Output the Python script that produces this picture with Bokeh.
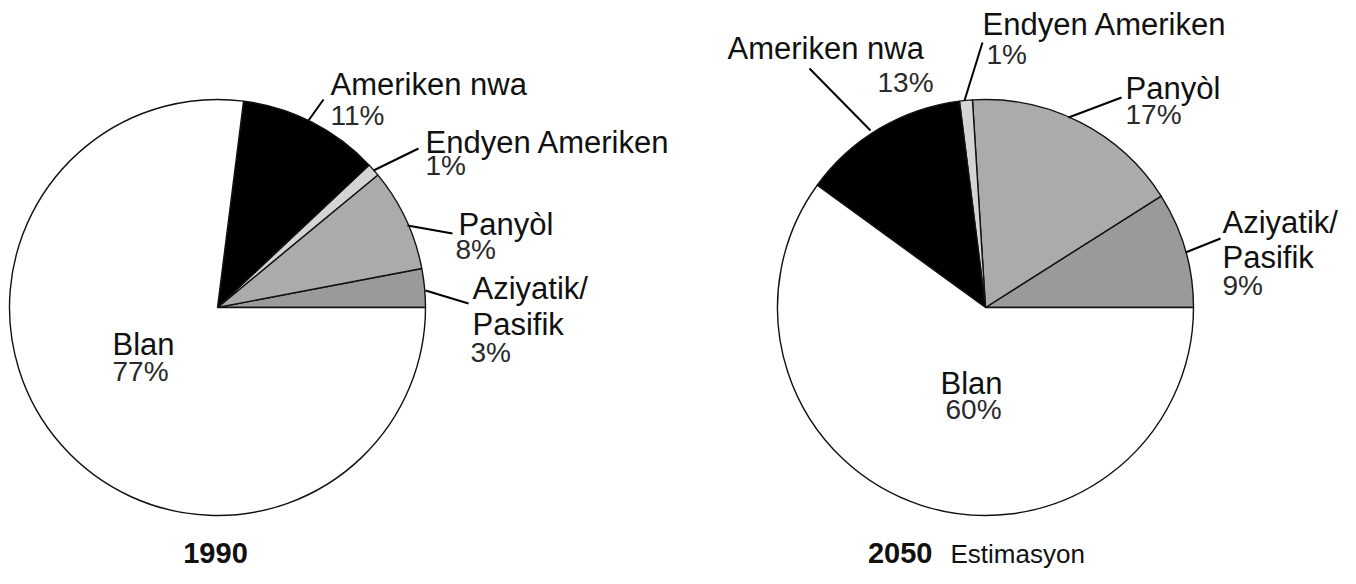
import numpy as np
from bokeh.plotting import figure
from bokeh.models import Range1d, ColumnDataSource
from bokeh.core.properties import value
from bokeh.embed import file_html
from bokeh.resources import INLINE

# ---------------- data ----------------
categories = ["Aziyatik/Pasifik", "Panyòl", "Endyen Ameriken", "Ameriken nwa", "Blan"]
shares_1990 = [3, 8, 1, 11, 77]
shares_2050 = [9, 17, 1, 13, 60]
years = ["1990", "2050"]
year_notes = ["", "Estimasyon"]

# ---------------- styles ----------------
slice_colors = ["#9a9a9a", "#ababab", "#d4d4d4", "#000000", "#ffffff"]
FONT = "Liberation Sans"
NAME_PX = 31
PCT_PX = 28
YEAR_PX = 29
NOTE_PX = 26
BASE_FIX = 0.3  # baseline correction (fraction of font size)

# ---------------- layout (picture pixel coordinates) ----------------
pie_centers = [(217, 307), (985, 307)]
pie_radius = 208

name_pos = [
    {
        "Aziyatik/Pasifik": [(472, 297), (472, 333)],
        "Panyòl": [(458, 233)],
        "Endyen Ameriken": [(425, 151)],
        "Ameriken nwa": [(330, 93)],
        "Blan": [(112, 353)],
    },
    {
        "Aziyatik/Pasifik": [(1222, 231), (1222, 266)],
        "Panyòl": [(1125, 97)],
        "Endyen Ameriken": [(982, 33)],
        "Ameriken nwa": [(727, 57)],
        "Blan": [(940, 392)],
    },
]
pct_pos = [
    {
        "Aziyatik/Pasifik": (470, 360),
        "Panyòl": (455, 257),
        "Endyen Ameriken": (425, 173),
        "Ameriken nwa": (330, 123),
        "Blan": (112, 379),
    },
    {
        "Aziyatik/Pasifik": (1222, 293),
        "Panyòl": (1125, 122),
        "Endyen Ameriken": (986, 62),
        "Ameriken nwa": (877, 90),
        "Blan": (945, 417),
    },
]
leaders = [
    {
        "Aziyatik/Pasifik": (425, 290, 468, 303),
        "Panyòl": (407, 225, 452, 233),
        "Endyen Ameriken": (373, 170, 418, 148),
        "Ameriken nwa": (308, 120, 323, 99),
    },
    {
        "Aziyatik/Pasifik": (1185, 252, 1220, 238),
        "Panyòl": (1068, 117, 1121, 97),
        "Endyen Ameriken": (964, 100, 982, 42),
        "Ameriken nwa": (870, 130, 809, 68),
    },
]
year_pos = [(215, 561, "center"), (932, 561, "right")]
note_pos = [None, (950, 561)]

W, H = 1340, 568
p = figure(width=W, height=H, x_range=Range1d(0, W), y_range=Range1d(-H, 0),
           output_backend="svg", toolbar_location=None, min_border=0)
p.axis.visible = False
p.grid.visible = False
p.outline_line_color = None
p.background_fill_color = "white"
p.border_fill_color = "white"


def split_name(name):
    if "/" in name:
        a, b = name.split("/", 1)
        return [a + "/", b]
    return [name]


def ty(y, size):
    return -(y - BASE_FIX * size)


for i, shares in enumerate([shares_1990, shares_2050]):
    cx, cy = pie_centers[i]
    vals = np.array(shares, dtype=float)
    frac = vals / vals.sum()
    ends = np.cumsum(frac) * 2 * np.pi
    starts = ends - frac * 2 * np.pi
    src = ColumnDataSource(dict(start=starts, end=ends, color=slice_colors))
    p.wedge(x=cx, y=-cy, radius=pie_radius, start_angle="start", end_angle="end",
            fill_color="color", line_color="#111111", line_width=1.4, source=src)

    # leader lines
    x0, y0, x1, y1 = [], [], [], []
    for cat, (a, b, c, d) in leaders[i].items():
        x0.append(a); y0.append(-b); x1.append(c); y1.append(-d)
    p.segment(x0=x0, y0=y0, x1=x1, y1=y1, line_color="black", line_width=2)

    # names
    nx, ny, nt = [], [], []
    for cat in categories:
        for line, (x, y) in zip(split_name(cat), name_pos[i][cat]):
            nx.append(x); ny.append(ty(y, NAME_PX)); nt.append(line)
    p.text(x=nx, y=ny, text=nt, text_font=value(FONT), text_font_size=f"{NAME_PX}px",
           text_color="#111111", text_baseline="alphabetic", text_align="left")

    # percentages
    px_, py_, pt = [], [], []
    for cat, v in zip(categories, shares):
        x, y = pct_pos[i][cat]
        px_.append(x); py_.append(ty(y, PCT_PX)); pt.append(f"{v}%")
    p.text(x=px_, y=py_, text=pt, text_font=value(FONT), text_font_size=f"{PCT_PX}px",
           text_color="#2a2a2a", text_baseline="alphabetic", text_align="left")

    # year title
    yx, yy, al = year_pos[i]
    p.text(x=[yx], y=[ty(yy, YEAR_PX)], text=[years[i]], text_font=value(FONT),
           text_font_size=f"{YEAR_PX}px", text_font_style="bold", text_color="#111111",
           text_baseline="alphabetic", text_align=al)
    if year_notes[i]:
        nxp, nyp = note_pos[i]
        p.text(x=[nxp], y=[ty(nyp, NOTE_PX)], text=[year_notes[i]], text_font=value(FONT),
               text_font_size=f"{NOTE_PX}px", text_color="#111111",
               text_baseline="alphabetic", text_align="left")

open("out.html", "w").write(file_html(p, INLINE))
